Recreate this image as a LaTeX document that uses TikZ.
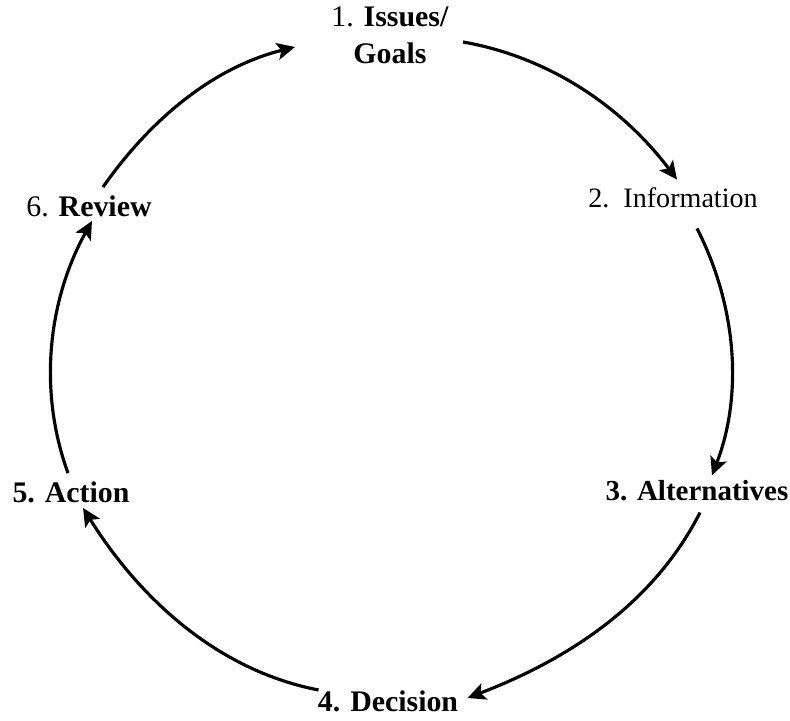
\documentclass[tikz,border=0pt]{standalone}
\usepackage{fontspec}
\setmainfont{Liberation Serif}
\usepackage{tikz}
\usetikzlibrary{arrows.meta,positioning}
\tikzset{
  stage/.style={inner sep=0pt,align=center,font=\fontsize{17}{21}\selectfont},
  cyclearr/.style={-{Stealth[length=3.6mm,width=3.4mm,inset=0.8mm]},line width=1.8pt,
                   draw=black,looseness=0.9}
}
\begin{document}
\begin{tikzpicture}[x=0.02cm,y=0.02cm]
    \path[use as bounding box] (0,0) rectangle (790,720);

    \node[stage] (goals) at (390,685) {1. \textbf{Issues/}\\\textbf{Goals}};
    \node[stage,font=\fontsize{16}{19}\selectfont] (info) at (673,522)
      {2.\enspace Information};
    \node[stage,font=\fontsize{16.5}{20}\bfseries] (alt) at (697,229) {3. Alternatives};
    \node[stage,font=\fontsize{17}{21}\bfseries] (dec) at (388,19) {4. Decision};
    \node[stage,font=\fontsize{17}{21}\bfseries] (act) at (71,228) {5. Action};
    \node[stage] (rev) at (89,514) {6. \textbf{Review}};

    \draw[cyclearr] ([shift={(14,-7)}]goals.east)
      to[out=-10,in=127] ([shift={(4,8)}]info.north);
    \draw[cyclearr] ([shift={(24,-20)}]info.south)
      to[out=-63,in=69] ([shift={(15,5)}]alt.north);
    \draw[cyclearr] ([shift={(3,-11)}]alt.south)
      to[out=-117,in=21] ([shift={(9,3)}]dec.east);
    \draw[cyclearr] ([shift={(1,11)}]dec.west)
      to[out=169,in=-58] ([shift={(12,-5)}]act.south);
    \draw[cyclearr] ([shift={(-3,8)}]act.north)
      to[out=110,in=-119] ([shift={(3,-4)}]rev.south);
    \draw[cyclearr] ([shift={(14,8)}]rev.north)
      to[out=55,in=194] ([shift={(-36,-12)}]goals.west);
\end{tikzpicture}
\end{document}
